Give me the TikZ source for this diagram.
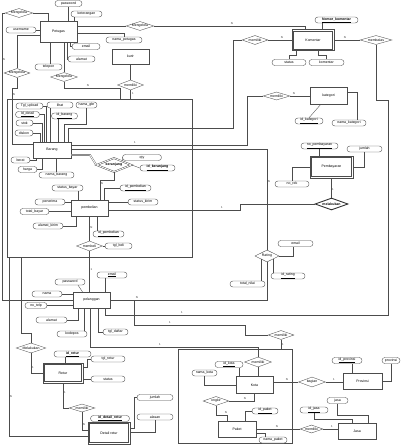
\documentclass[tikz,border=0pt]{standalone}
\usepackage{fontspec}
\setmainfont{Liberation Sans}
\usetikzlibrary{shapes.geometric}
\newcommand{\fsA}{\fontsize{3.5}{4}\selectfont}
\newcommand{\fsB}{\fontsize{2.8}{3}\selectfont}
\tikzset{
 ln/.style={draw=black!70, line width=0.35pt},
 ent/.style={draw=black!70, line width=0.35pt, rectangle, inner sep=0pt, fill=white, font=\fsA},
 went/.style={ent},
 inner/.style={draw=black!70, line width=0.35pt},
 attr/.style={draw=black!70, line width=0.35pt, rectangle, rounded corners=2.9pt, minimum height=6pt, inner sep=0.3pt, fill=white, font=\fsA},
 rel/.style={draw=black!70, line width=0.35pt, diamond, aspect=3, inner sep=0pt, fill=white, font=\fsA},
 aggbox/.style={draw=black!70, line width=0.35pt, rectangle, inner sep=0pt, anchor=north west},
 card/.style={font=\fsB, inner sep=0pt, text=black!80},
}
\begin{document}
\begin{tikzpicture}[x=1pt,y=-1pt]
\useasboundingbox[fill=white] (0,0) rectangle (401,446);
% aggregation boxes
\node[aggbox, minimum width=185pt, minimum height=158pt] (box1) at (7,99) {};
\node[aggbox, minimum width=114pt, minimum height=94pt] (box2) at (178,349) {};

% entities
\node[ent, minimum width=37pt, minimum height=21pt] (petugas) at (58.5,31.5) {Petugas};
\node[ent, minimum width=37pt, minimum height=15pt] (kurir) at (130.5,56.5) {kurir};
\node[went, minimum width=42pt, minimum height=21pt] (komentar) at (313,40) {Komentar};
\node[ent, minimum width=37pt, minimum height=17pt] (kategori) at (328.5,96) {kategori};
\node[ent, minimum width=38pt, minimum height=16pt] (barang) at (52,150) {Barang};
\node[ent, minimum width=37pt, minimum height=16pt] (pembelian) at (89.5,208) {pembelian};
\node[went, minimum width=43pt, minimum height=22pt] (pembayaran) at (331.5,167) {Pembayaran};
\node[ent, minimum width=37pt, minimum height=16pt] (pelanggan) at (91.5,300) {pelanggan};
\node[went, minimum width=40pt, minimum height=20pt] (retur) at (63,373) {Retur};
\node[went, minimum width=42pt, minimum height=22pt] (detailretur) at (109,433) {Detail retur};
\node[ent, minimum width=37pt, minimum height=17pt] (kota) at (254.5,385) {Kota};
\node[ent, minimum width=38pt, minimum height=16pt] (paket) at (237,429) {Paket};
\node[ent, minimum width=39pt, minimum height=16pt] (provinsi) at (362.5,381) {Provinsi};
\node[ent, minimum width=38pt, minimum height=16pt] (jasa) at (357,431) {Jasa};
% inner borders of weak entities
\foreach \n in {komentar,pembayaran,retur,detailretur}
  \draw[inner] ([xshift=1.7pt,yshift=-1.7pt]\n.north west) rectangle ([xshift=-1.7pt,yshift=1.7pt]\n.south east);

% relationships
\node[rel, minimum width=28pt, minimum height=9pt] (mengA) at (19,13) {Mengelola};
\node[rel, minimum width=28pt, minimum height=9pt] (mengB) at (140,26) {Mengelola};
\node[rel, minimum width=26pt, minimum height=9pt] (mengC) at (17,73) {Mengelola};
\node[rel, minimum width=27pt, minimum height=9pt] (mengD) at (64,77) {Mengelola};
\node[rel, minimum width=26pt, minimum height=10pt] (memKurir) at (130.5,85) {memiliki};
\node[rel, minimum width=26pt, minimum height=9pt] (memKom) at (255,40) {memiliki};
\node[rel, minimum width=32pt, minimum height=9pt] (membalas) at (376,40) {membalas};
\node[rel, minimum width=27pt, minimum height=8pt] (memKat) at (276.5,96) {memiliki};
\node[rel, minimum width=35pt, minimum height=14pt, double=white, double distance=0.8pt, line width=0.45pt, font=\fsA\bfseries] (keranjang) at (114,165) {keranjang};
\node[rel, minimum width=33pt, minimum height=12pt, line width=0.9pt, draw=black!80, font=\fsA\bfseries] (melakukanP) at (331.5,204) {melakukan};
\node[rel, minimum width=26pt, minimum height=10pt] (membeli) at (89.5,246) {membeli};
\node[rel, minimum width=24pt, minimum height=12pt] (rating) at (267,256) {Rating};
\node[rel, minimum width=26pt, minimum height=9pt] (memPel) at (281,335) {memiliki};
\node[rel, minimum width=30pt, minimum height=10pt] (melakukanR) at (31,348) {Melakukan};
\node[rel, minimum width=26pt, minimum height=8pt] (memRetur) at (82,408) {memiliki};
\node[rel, minimum width=27pt, minimum height=10pt] (memKota) at (258,362) {memiliki};
\node[rel, minimum width=26pt, minimum height=9pt] (ongkir) at (216,401) {ongkir};
\node[rel, minimum width=27pt, minimum height=10pt] (bagian) at (312,382) {bagian};
\node[rel, minimum width=23pt, minimum height=8pt] (memJasa) at (311.5,429) {memiliki};

% attributes
\node[attr, minimum width=27pt] (password) at (68.5,3.5) {password};
\node[attr, minimum width=31pt] (keterangan) at (86.5,14) {keterangan};
\node[attr, minimum width=30pt] (username) at (21,30) {username};
\node[attr, minimum width=36pt] (namapetugas) at (124,40) {nama\_petugas};
\node[attr, minimum width=28pt] (email) at (86,46.5) {email};
\node[attr, minimum width=27pt] (alamat) at (81.5,59) {alamat};
\node[attr, minimum width=27pt] (telepon) at (48.5,67) {telepon};
\node[attr, minimum width=27pt] (tglupload) at (29.5,106) {Tgl\_upload};
\node[attr, minimum width=24pt] (iddetail) at (27.5,114.5) {\underline{Id\_detail}};
\node[attr, minimum width=17pt] (stok) at (24.5,123) {stok};
\node[attr, minimum width=18pt] (diskon) at (24,133) {diskon};
\node[attr, minimum width=26pt] (lihat) at (60,105) {lihat};
\node[attr, minimum width=21pt] (namagbr) at (86.5,105) {nama\_gbr};
\node[attr, minimum width=26pt] (idbarang) at (64.5,116) {\underline{id\_barang}};
\node[attr, minimum width=19pt] (berat) at (20.5,160) {berat};
\node[attr, minimum width=19pt] (harga) at (27.5,169.5) {harga};
\node[attr, minimum width=35pt] (namabarang) at (56.5,175) {nama\_barang};
\node[attr, minimum width=39pt] (qty) at (142,157.5) {qty};
\node[attr, minimum width=35pt, font=\fsA\bfseries] (idkeranjang) at (157.5,168) {\underline{id\_keranjang}};
\node[attr, minimum width=31pt] (statusbayar) at (67.5,188) {status\_bayar};
\node[attr, minimum width=31pt] (idpembelianA) at (135.5,188) {\underline{id\_pembelian}};
\node[attr, minimum width=30pt] (penerima) at (50,202) {penerima};
\node[attr, minimum width=30pt] (statuskirim) at (143,202) {status\_kirim};
\node[attr, minimum width=29pt] (totalbayar) at (34.5,211.5) {total\_bayar};
\node[attr, minimum width=30pt] (alamatkirim) at (48,226) {alamat\_kirim};
\node[attr, minimum width=31pt] (idpembelianB) at (108.5,234) {\underline{id\_pembelian}};
\node[attr, minimum width=27pt] (tglbeli) at (118.5,246) {tgl\_beli};
\node[attr, minimum width=37pt] (nopembayaran) at (319.5,146) {\underline{no\_pembayaran}};
\node[attr, minimum width=35pt] (jumlahP) at (364.5,149) {jumlah};
\node[attr, minimum width=34pt] (norek) at (292,184) {no\_rek};
\node[attr, minimum width=34pt] (namakategori) at (349,123) {nama\_kategori};
\node[attr, minimum width=28pt] (idkategori) at (309,121) {\underline{id\_kategori}};
\node[attr, minimum width=34pt] (statusK) at (289,62.5) {status};
\node[attr, minimum width=35pt] (komentarA) at (326.5,62.5) {komentar};
\node[attr, minimum width=43pt, font=\fsA\bfseries] (nomorkomentar) at (336.5,20) {\underline{Nomor\_komentar}};
\node[attr, minimum width=35pt] (emailR) at (295.5,243.5) {email};
\node[attr, minimum width=34pt] (idrating) at (288,276) {\underline{id\_rating}};
\node[attr, minimum width=35pt] (totalnilai) at (247.5,284) {total\_nilai};
\node[attr, minimum width=30pt] (passwordP) at (70,282) {password};
\node[attr, minimum width=30pt] (nama) at (47,294) {nama};
\node[attr, minimum width=30pt] (emailP) at (112,275) {\underline{email}};
\node[attr, minimum width=22pt] (notelp) at (36,305.5) {no\_telp};
\node[attr, minimum width=31pt] (alamatP) at (51.5,320) {alamat};
\node[attr, minimum width=30pt] (kodepos) at (72,334) {kodepos};
\node[attr, minimum width=25pt] (tgldaftar) at (115.5,332) {tgl\_daftar};
\node[attr, minimum width=37pt, font=\fsA\bfseries] (idretur) at (72.5,354) {\underline{id\_retur}};
\node[attr, minimum width=34pt] (tglretur) at (108,359) {tgl\_retur};
\node[attr, minimum width=34pt] (statusR) at (108,379) {status};
\node[attr, minimum width=39pt, font=\fsA\bfseries] (iddetailretur) at (110,418.5) {\underline{id\_detail\_retur}};
\node[attr, minimum width=36pt] (jumlahD) at (155,397.5) {jumlah};
\node[attr, minimum width=36pt] (alasan) at (155,417) {alasan};
\node[attr, minimum width=28pt] (idkota) at (229,364.5) {\underline{id\_kota}};
\node[attr, minimum width=25pt] (namakota) at (204.5,373) {nama\_kota};
\node[attr, minimum width=26pt] (idpaket) at (265,411) {\underline{id\_paket}};
\node[attr, minimum width=28pt] (namapaket) at (273,440) {nama\_paket};
\node[attr, minimum width=28pt] (idjasa) at (314,410) {\underline{id\_jasa}};
\node[attr, minimum width=21pt] (jasaA) at (337.5,400.5) {jasa};
\node[attr, minimum width=30pt] (idprovinsi) at (347,360.5) {\underline{id\_provinsi}};
\node[attr, minimum width=18pt] (provinsiA) at (391,360.5) {provinsi};

\coordinate (jc) at (134,300);

% ---- connectors: Petugas
\draw[ln] (mengA.west) -- (2,13) |- (pelanggan.west);
\draw[ln] (mengA.east) -| ([xshift=-10pt]petugas.north);
\draw[ln] (password.south) -- ([xshift=10pt]petugas.north);
\draw[ln] ([xshift=-12pt]keterangan.south) -- ([xshift=16pt]petugas.north);
\draw[ln] (username.east) -- (petugas.west |- username.east);
\draw[ln] ([yshift=-4pt]petugas.west) -| (mengC.north);
\draw[ln] (mengC.south) -- (17,88) -- (12,88) -- (12,144) -- ([yshift=6pt]barang.west);
\draw[ln] ([xshift=5.5pt]petugas.south) -- (mengD.north);
\draw[ln] (mengD.south) |- (120,88) -- (120,99);
\draw[ln] ([xshift=-8.5pt]petugas.south) -- ([xshift=1.5pt]telepon.north);
\draw[ln] ([xshift=11.5pt]petugas.south) |- (email.west);
\draw[ln] ([xshift=8.5pt]petugas.south) |- (alamat.west);
\draw[ln] ([yshift=-2pt]petugas.east) -| (namapetugas.north);
\draw[ln] ([yshift=5.5pt]petugas.east) -- (mengB.west);
\draw[ln] (mengB.east) -| ([xshift=-8pt]komentar.north);
\draw[ln] (kurir.south) -- (memKurir.north);
\draw[ln] (memKurir.south) -- (130.5,99);
% Komentar
\draw[ln] ([xshift=-14pt]nomorkomentar.south) -- ([xshift=9.5pt]komentar.north);
\draw[ln] (statusK.north) -- (289,55) -| ([xshift=-17pt]komentar.south);
\draw[ln] (komentarA.north) -- (326.5,55) -| ([xshift=5pt]komentar.south);
\draw[ln] ([xshift=16pt]barang.north) -- (68,128) -- (233,128) |- (memKom.west);
\draw[ln] (memKom.east) -- (komentar.west);
\draw[ln] (komentar.east) -- (membalas.west);
\draw[ln] (membalas.south) -- (376,100) -- (388,100) -- (388,315) -| ([xshift=13.5pt]pelanggan.south);
% kategori
\draw[ln] ([yshift=5pt]barang.east) -- (247,145) |- (memKat.west);
\draw[ln] (memKat.east) -- (kategori.west);
\draw[ln] ([xshift=-8pt]kategori.south) -- (idkategori.north);
\draw[ln] ([yshift=4pt]kategori.east) -- (357,92) -- ([xshift=8pt]namakategori.north);
% rating
\draw[ln] ([yshift=1pt]barang.east) -- (267,149) -- (rating.north);
\draw[ln] (rating.south) |- (pelanggan.east);
\draw[ln] (rating.east) -| ([xshift=-2.5pt]emailR.south);
\draw[ln] (rating.south east) -- (rating.south east |- idrating.north);
\draw[ln] (rating.south west) -- (rating.south west |- totalnilai.north);
% Barang attributes
\draw[ln] (tglupload.east) -| ([xshift=-6pt]barang.north);
\draw[ln] (iddetail.east) -| ([xshift=-8pt]barang.north);
\draw[ln] (stok.east) -| ([xshift=-10pt]barang.north);
\draw[ln] (diskon.east) -| ([xshift=-12pt]barang.north);
\draw[ln] ([xshift=-10pt]lihat.south) -- ([xshift=-2pt]barang.north);
\draw[ln] ([xshift=-6.5pt]idbarang.south) -- ([xshift=6pt]barang.north);
\draw[ln] (namagbr.south) -- (86.5,124) -- (64,124) -- ([xshift=12pt]barang.north);
\draw[ln] (berat.east) -| ([xshift=-16pt]barang.south);
\draw[ln] (harga.east) -| ([xshift=-10pt]barang.south);
\draw[ln] (namabarang.north) -- ([xshift=4.5pt]barang.south);
% keranjang
\draw[ln, double=white, double distance=0.9pt] ([yshift=-5pt]barang.east) -- (90,155) -- (keranjang.west);
\draw[ln] (keranjang.south) -- (114,180) -| ([xshift=10.5pt]pembelian.north);
\draw[ln] (keranjang.north east) -- (qty.west);
\draw[ln] (keranjang.east) to[out=0,in=180] (idkeranjang.west);
% pembelian
\draw[ln] ([xshift=10.5pt]statusbayar.south) -- ([xshift=-11.5pt]pembelian.north);
\draw[ln] (idpembelianA.west) -| ([xshift=14.5pt]pembelian.north);
\draw[ln] (statuskirim.west) -- (pembelian.east |- statuskirim.west);
\draw[ln] (penerima.east) -- (pembelian.west |- penerima.east);
\draw[ln] (totalbayar.east) -- (pembelian.west |- totalbayar.east);
\draw[ln] (alamatkirim.east) -| ([xshift=-13.5pt]pembelian.south);
\draw[ln] ([xshift=-11.5pt]idpembelianB.north) -- ([xshift=7.5pt]pembelian.south);
\draw[ln] (pembelian.south) -- (membeli.north);
\draw[ln] (tglbeli.west) -- (membeli.east);
\draw[ln] (membeli.south) -- ([xshift=-2pt]pelanggan.north);
\draw[ln] ([yshift=-2pt]pembelian.east) -- (240,210) -- (240,204) -- (melakukanP.west);
% pembayaran
\draw[ln] (pembayaran.south) -- (melakukanP.north);
\draw[ln] (nopembayaran.south) -- ([xshift=-12pt]pembayaran.north);
\draw[ln] (jumlahP.south) |- (pembayaran.east);
\draw[ln] (norek.north) |- (pembayaran.west);
% pelanggan
\draw[ln] ([xshift=8pt]passwordP.south) -- ([xshift=-9pt]pelanggan.north);
\draw[ln] (nama.east) -- (pelanggan.west |- nama.east);
\draw[ln] ([xshift=-7pt]emailP.south) -- ([xshift=13.5pt]pelanggan.north);
\draw[ln] (notelp.east) -- (pelanggan.west |- notelp.east);
\draw[ln] (alamatP.east) -| ([xshift=-13.5pt]pelanggan.south);
\draw[ln] ([xshift=12pt]kodepos.north) -- ([xshift=-7.5pt]pelanggan.south);
\draw[ln] (tgldaftar.west) -| ([xshift=6.5pt]pelanggan.south);
\draw[ln] ([xshift=-1.5pt]pelanggan.south) -- (90,347) -| (memKota.north);
\draw[ln] (jc) |- (245,325) |- (memPel.west);
\draw[ln] (memPel.south) -- (memPel.south |- box2.north);
% Kota / Paket
\draw[ln] (memKota.south) -- (memKota.south |- kota.north);
\draw[ln] ([xshift=10pt]idkota.south) -- ([xshift=-15.5pt]kota.north);
\draw[ln] (namakota.south) |- (kota.west);
\draw[ln] (ongkir.east) -| (kota.south);
\draw[ln] (ongkir.south) -- (216,415) -| ([xshift=-10pt]paket.north);
\draw[ln] (idpaket.west) -| ([xshift=8pt]paket.north);
\draw[ln] ([yshift=-4pt]paket.east) -| ([xshift=-8pt]namapaket.north);
\draw[ln] (paket.east) -- (memJasa.west);
\draw[ln] (memJasa.east) -- (jasa.west |- memJasa.east);
\draw[ln] (idjasa.south) -- (314,419) -| ([xshift=-5pt]jasa.north);
\draw[ln] (jasaA.south) -- (337.5,415) -| ([xshift=11pt]jasa.north);
\draw[ln] (kota.east |- bagian.west) -- (bagian.west);
\draw[ln] (bagian.east) -- (provinsi.west |- bagian.east);
\draw[ln] ([xshift=5pt]idprovinsi.south) -- ([xshift=-10.5pt]provinsi.north);
\draw[ln] (provinsiA.south) |- (provinsi.east);
% Retur
\draw[ln] ([xshift=-7.5pt]idretur.south) -- ([xshift=2pt]retur.north);
\draw[ln] (tglretur.west) -- (87,359) |- ([yshift=6pt]retur.east);
\draw[ln] (statusR.west) -- (retur.east |- statusR.west);
\draw[ln] (melakukanR.south) |- (retur.west);
\draw[ln] ([xshift=14pt]box1.south west) -- (21,333) -| (melakukanR.north);
\draw[ln] ([xshift=2pt]box1.south west) |- ([yshift=-3pt]detailretur.west);
\draw[ln] (retur.south) |- (memRetur.west);
\draw[ln] (memRetur.south) |- ([yshift=3pt]detailretur.west);
\draw[ln] ([xshift=-12pt]iddetailretur.south) -- ([xshift=-11pt]detailretur.north);
\draw[ln] (jumlahD.west) -- (134,397.5) |- ([yshift=5pt]detailretur.east);
\draw[ln] (alasan.south) |- ([yshift=1pt]detailretur.east);

% cardinalities
\node[card] (k1) at (4,60) {N};
\node[card] (k2) at (232,24) {N};
\node[card] (k3) at (282,38) {N};
\node[card] (k4) at (345,38) {N};
\node[card] (k5) at (294,94) {N};
\node[card] (k6) at (14,95) {N};
\node[card] (k7) at (88,86) {N};
\node[card] (k8) at (133,94) {1};
\node[card] (k9) at (135,143) {1};
\node[card] (k10) at (269,182) {N};
\node[card] (k11) at (222,208) {1};
\node[card] (k12) at (102,184) {N};
\node[card] (k13) at (91.5,228) {N};
\node[card] (k14) at (91.5,270) {1};
\node[card] (k15) at (137,298) {N};
\node[card] (k16) at (182,313) {1};
\node[card] (k17) at (170,323) {1};
\node[card] (k18) at (283,345) {1};
\node[card] (k19) at (160,345) {1};
\node[card] (k20) at (245,399) {N};
\node[card] (k21) at (226,413) {N};
\node[card] (k22) at (287,380) {N};
\node[card] (k23) at (334,380) {1};
\node[card] (k24) at (277,427) {N};
\node[card] (k25) at (332,427) {1};
\node[card] (k26) at (33,368) {1};
\node[card] (k27) at (65,393) {1};
\node[card] (k28) at (84,425) {N};
\node[card] (k29) at (11,397) {N};
\node[card] (k30) at (333,190) {1};
\end{tikzpicture}
\end{document}
